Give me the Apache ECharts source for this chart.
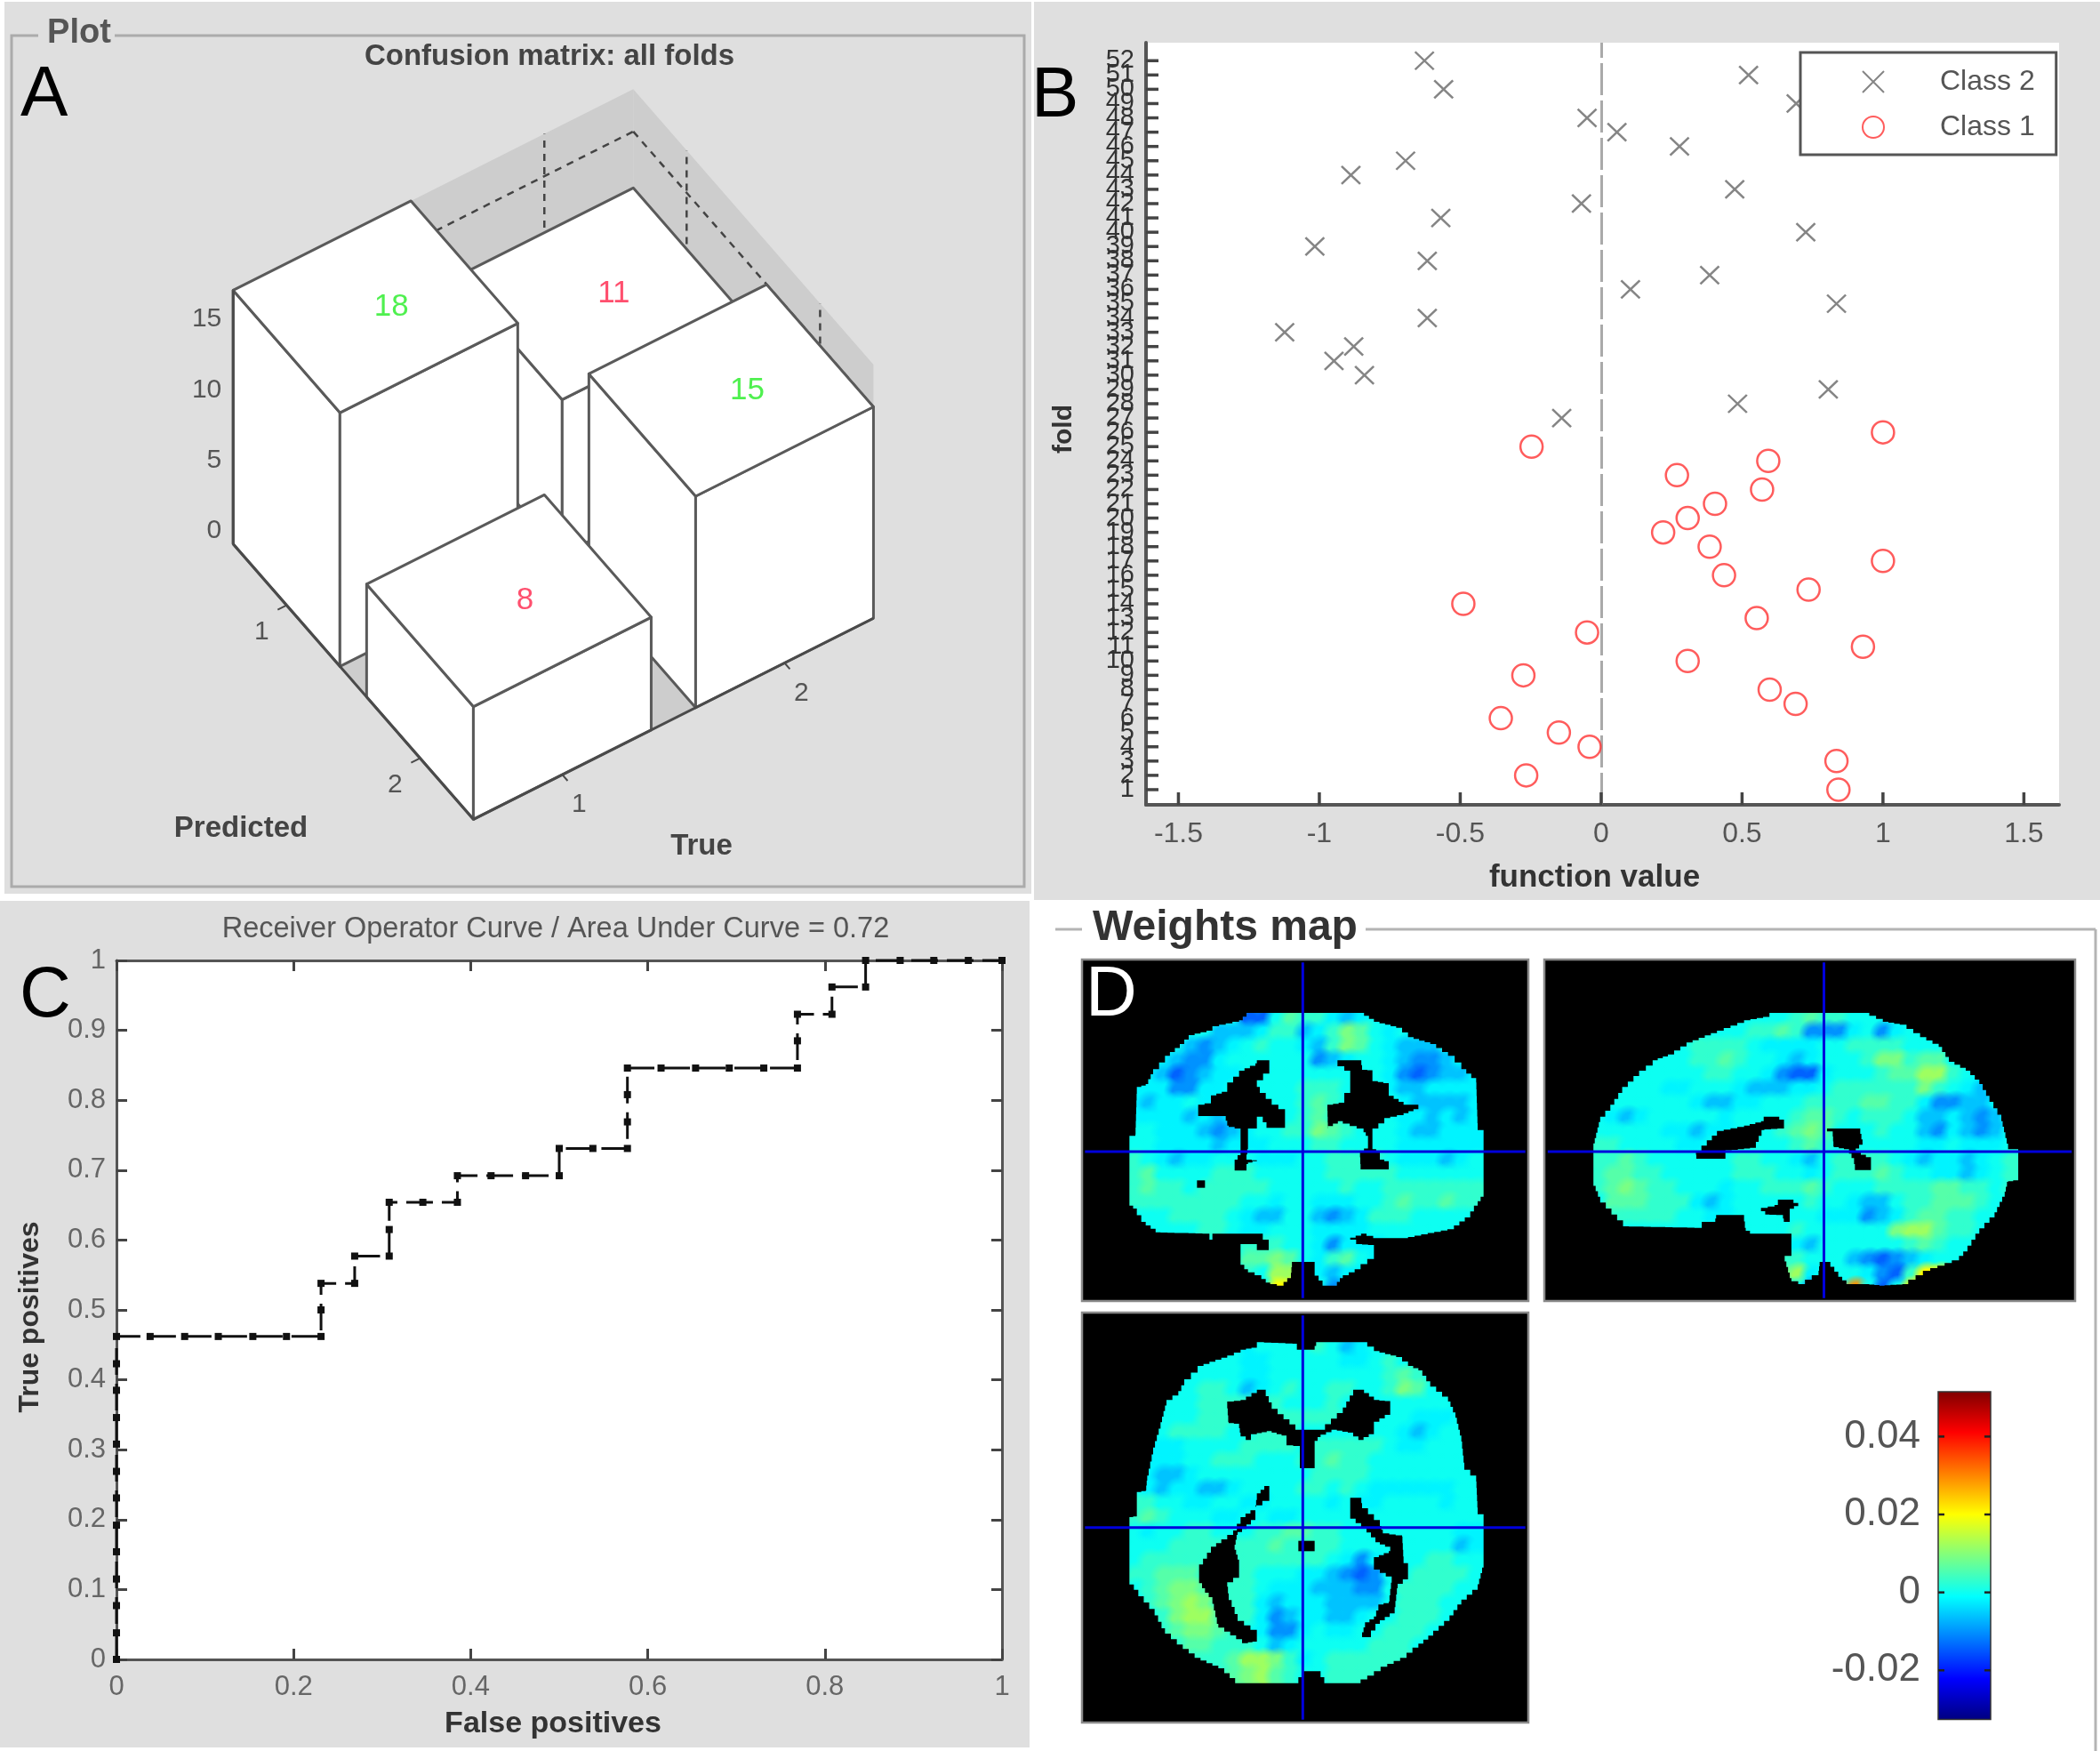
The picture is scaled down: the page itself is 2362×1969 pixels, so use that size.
<!DOCTYPE html>
<html>
<head>
<meta charset="utf-8">
<title>Classifier results</title>
<script src="https://cdn.jsdelivr.net/npm/echarts@6/dist/echarts.min.js"></script>
<style>
html, body { margin: 0; padding: 0; background: #fff; }
#main { width: 2362px; height: 1969px; }
</style>
</head>
<body>
<div id="main"></div>
<script>
var FONT = '"Liberation Sans", Arial, sans-serif';

// A: confusion matrix
var confTrue = [2, 1, 2, 1];
var confPred = [1, 1, 2, 2];
var confCount = [11, 18, 15, 8];
var confZTicks = [0, 5, 10, 15];

// B: function value per fold
var class2Fold = [52,51,50,49,48,47,46,45,44,43,42,41,40,39,38,37,36,35,34,33,32,31,30,29,28,27];
var class2Score = [-0.627,0.523,-0.559,0.692,-0.05,0.056,0.278,-0.694,-0.888,0.474,-0.07,-0.569,0.726,-1.016,-0.617,0.385,0.104,0.835,-0.617,-1.123,-0.878,-0.948,-0.84,0.806,0.484,-0.14];
var class1Fold = [26,25,24,23,22,21,20,19,18,17,16,15,14,13,12,11,10,9,8,7,6,5,4,3,2,1];
var class1Score = [1.0,-0.247,0.593,0.269,0.571,0.404,0.307,0.22,0.385,1.0,0.436,0.736,-0.489,0.552,-0.05,0.929,0.307,-0.276,0.598,0.69,-0.356,-0.15,-0.041,0.835,-0.266,0.842];
var foldTicks = [1,2,3,4,5,6,7,8,9,10,11,12,13,14,15,16,17,18,19,20,21,22,23,24,25,26,27,28,29,30,31,32,33,34,35,36,37,38,39,40,41,42,43,44,45,46,47,48,49,50,51,52];
var foldMin = -0.06, foldMax = 53.26;
var scoreMin = -1.615, scoreMax = 1.625;
var scoreTicks = [-1.5, -1, -0.5, 0, 0.5, 1, 1.5];

// C: ROC curve
var rocFp = [0,0,0,0,0,0,0,0,0,0,0,0,0,0.038,0.077,0.115,0.154,0.192,0.231,0.231,0.231,0.269,0.269,0.308,0.308,0.308,0.346,0.385,0.385,0.423,0.462,0.5,0.5,0.538,0.577,0.577,0.577,0.577,0.615,0.654,0.692,0.731,0.769,0.769,0.769,0.808,0.808,0.846,0.846,0.885,0.923,0.962,1];
var rocTp = [0,0.038,0.077,0.115,0.154,0.192,0.231,0.269,0.308,0.346,0.385,0.423,0.462,0.462,0.462,0.462,0.462,0.462,0.462,0.5,0.538,0.538,0.577,0.577,0.615,0.654,0.654,0.654,0.692,0.692,0.692,0.692,0.731,0.731,0.731,0.769,0.808,0.846,0.846,0.846,0.846,0.846,0.846,0.885,0.923,0.923,0.962,0.962,1,1,1,1,1];

// D: weights, one digit per coarse block, looked up in weightLevels
var weightLevels = [-0.014, -0.010, -0.006, -0.002, 0, 0.003, 0.006, 0.009, 0.012, 0.020, 0.029];
var coronalWeights = [
'4444444400465532344444444','4444442223552357643444444','4444212345443257643222444','3332113444444123443211233',
'3320123344444444443101223','3331133444445554443223333','3233433444445654444322223','3333232344445654444332323',
'4433321234455765444322333','4433332333444554444333333','5432334443334455554333234','5644445554444455555444444',
'5655455555444445445555555','5555555544344333445655655','4445555432244212355544444','4444455433444333344444444',
'4444444455544313334444444','4444444466764356434444444','4444444454884323334444444','4444444444994413444444444'];
var sagittalWeights = [
'444444444444445655444444444444','444444444445565111341344444444','444444455554333344555544444444','444444455654432344457756644444',
'444444445544310034445668854344','444443344432223345555557543244','444444432233444555566553112234','432344444344445665455542232124',
'444443323344456764445442132124','554444334444445654444443343334','556544444455443245555432332345','566554444455544345556544332345',
'567655444344555654445555665545','466655532344444544322455666544','455555443344444433312356655444','444444444444445444444788655444',
'444444444444443244444456544444','444444444444455444210123444444','444444444444468344431059944444','444444444444444144a40495444444'];
var axialWeights = [
'4444444434444542344444444','4444444433444443345444444','4444444433444444445654444','4444455423454455445764444',
'4444455555544454444444444','4444455555555554444433344','4445555445554444444323444','3333444455554555554334444',
'3333445554445565544444444','3322344444444555544444444','4323322344445545433333344','5544334433444434334444344',
'5654443344334444444444444','4344554445566554444444433','4445555555655554444444423','4555555555555543134445544',
'5566655554443321014455554','4567765554333222114555544','4567875553233322224555444','4457886553123322344555444',
'4456776543113433445554444','4445665554234444455544444','4444555688753455555544444','4444445678654455555444444'];
var jetColors = ['#00007f','#0000ff','#007fff','#00ffff','#7fff7f','#ffff00','#ff7f00','#ff0000','#7f0000'];
var weightMin = -0.0326, weightMax = 0.0515;
var weightTicks = [-0.02, 0, 0.02, 0.04];

// slice shapes, in the units of each slice's hidden axes
var coronalOutline = [[555,180],[935,180],[985,210],[1060,230],[1100,262],[1175,285],[1235,325],[1280,370],[1330,415],[1335,575],[1355,590],[1355,800],[1335,830],[1310,870],[1255,910],[1100,940],[1005,940],[960,925],[905,945],[925,960],[985,965],[985,1010],[940,1045],[880,1075],[860,1100],[825,1100],[785,1050],[785,1020],[710,1020],[705,1075],[680,1100],[635,1090],[605,1065],[560,1045],[535,1015],[535,960],[590,960],[590,980],[630,980],[630,945],[610,925],[460,925],[440,945],[430,925],[265,920],[215,885],[185,840],[160,820],[160,595],[180,590],[185,430],[215,420],[240,370],[280,325],[330,285],[360,255],[420,240],[440,225],[530,205]];
var coronalHoles = [
[[590,340],[632,340],[632,385],[590,430],[600,450],[640,490],[685,520],[685,568],[635,568],[610,530],[590,530],[590,570],[560,570],[560,640],[555,675],[590,680],[560,690],[555,712],[515,712],[515,675],[535,645],[535,570],[495,560],[485,528],[392,528],[392,490],[435,480],[435,458],[490,440],[490,415],[530,375],[585,350]],
[[862,340],[940,340],[945,372],[980,375],[980,410],[1035,420],[1035,460],[1085,490],[1135,490],[1135,505],[1085,525],[1040,535],[1000,570],[980,575],[980,640],[1005,655],[1005,675],[1035,685],[1035,708],[960,708],[940,690],[938,645],[965,630],[965,595],[950,570],[880,545],[830,570],[828,490],[885,480],[885,450],[905,440],[905,375],[885,360],[862,352]],
[[388,745],[415,745],[415,770],[388,770]]];
var sagittalOutline = [[665,180],[940,180],[1000,210],[1050,220],[1110,262],[1165,295],[1195,345],[1245,375],[1285,420],[1315,480],[1350,545],[1370,640],[1400,640],[1400,745],[1370,750],[1360,800],[1330,870],[1285,925],[1250,985],[1225,1015],[1140,1050],[1075,1095],[1005,1100],[960,1095],[905,1095],[880,1070],[845,1020],[815,1020],[810,1065],[770,1095],[730,1075],[710,1000],[730,995],[730,925],[620,925],[595,905],[590,862],[510,862],[505,885],[470,885],[465,905],[250,900],[215,860],[165,800],[145,745],[145,620],[165,530],[195,490],[230,430],[280,375],[320,340],[365,320],[420,280],[510,240],[590,205],[665,190]];
var sagittalHoles = [
[[648,530],[680,530],[708,550],[708,570],[650,575],[625,635],[590,640],[535,645],[535,672],[450,672],[448,645],[480,610],[510,578],[590,560],[640,545]],
[[835,570],[930,570],[940,625],[920,650],[965,675],[965,710],[920,710],[915,670],[900,640],[855,630],[852,580],[835,580]],
[[690,810],[722,810],[750,832],[725,850],[725,885],[710,885],[705,862],[665,860],[640,838],[680,828]]];
var axialOutline = [[590,100],[710,105],[725,125],[780,125],[790,100],[940,100],[985,130],[1060,150],[1100,180],[1135,195],[1175,250],[1235,300],[1260,355],[1280,435],[1290,530],[1330,570],[1335,680],[1355,685],[1355,860],[1335,935],[1280,985],[1240,1040],[1185,1090],[1135,1130],[1095,1165],[1030,1195],[985,1225],[940,1250],[830,1250],[805,1210],[760,1210],[730,1250],[535,1250],[480,1200],[400,1165],[340,1120],[280,1065],[245,1000],[190,935],[160,900],[160,690],[185,685],[185,605],[215,600],[220,550],[240,455],[265,370],[285,295],[325,265],[345,225],[390,180],[490,145],[535,125],[590,115]];
var axialHoles = [
[[590,260],[610,260],[640,325],[720,395],[800,395],[880,320],[915,260],[935,260],[985,295],[1040,300],[1040,345],[985,380],[985,410],[950,430],[915,405],[860,395],[805,420],[785,445],[785,525],[735,525],[735,450],[690,445],[690,415],[640,400],[590,410],[570,430],[535,405],[530,375],[495,370],[490,300],[535,295]],
[[615,585],[632,590],[632,635],[585,665],[585,700],[555,730],[525,750],[515,800],[530,850],[530,895],[490,925],[495,970],[525,1040],[590,1085],[590,1110],[560,1115],[460,1050],[440,960],[415,930],[395,895],[395,850],[435,790],[470,765],[510,735],[535,690],[585,655],[590,610]],
[[905,625],[940,625],[945,660],[1005,720],[1015,745],[1080,755],[1085,845],[1100,855],[1100,900],[1065,930],[1055,1015],[1005,1050],[975,1095],[940,1095],[955,1045],[985,1025],[1000,985],[1035,975],[1045,890],[985,855],[985,825],[1035,805],[1040,790],[1005,775],[960,725],[905,680]],
[[730,770],[785,770],[785,805],[730,805]]];

// oblique view used by panel A, drawn on a hidden pixel-sized grid
function project(t, p, z) {
    return [22.2 + t * 250 + p * 150.1, 583.9 - t * 125.6 + p * 172 - z * 15.85];
}
var halfBar = 0.4;
var wallLow = 0.6, wallHigh = 2.4, wallTop = 18;

function polygon(api, pts, style) {
    return {
        type: 'polygon',
        shape: { points: pts.map(function (q) { return api.coord(project(q[0], q[1], q[2])); }) },
        style: style
    };
}
function segment(api, a, b, style) {
    var s = api.coord(project(a[0], a[1], a[2]));
    var e = api.coord(project(b[0], b[1], b[2]));
    return { type: 'line', shape: { x1: s[0], y1: s[1], x2: e[0], y2: e[1] }, style: style };
}
function label3d(api, q, dx, dy, text, align) {
    var c = api.coord(project(q[0], q[1], q[2]));
    return {
        type: 'text', x: c[0] + dx, y: c[1] + dy,
        style: { text: text, fill: '#555', font: '30px ' + FONT, textAlign: align, textVerticalAlign: 'middle' }
    };
}

function renderBox(params, api) {
    var kids = [];
    var grey = { fill: '#cdcdcd' };
    kids.push(polygon(api, [[wallLow,wallLow,0],[wallHigh,wallLow,0],[wallHigh,wallHigh,0],[wallLow,wallHigh,0]], grey));
    kids.push(polygon(api, [[wallLow,wallLow,0],[wallHigh,wallLow,0],[wallHigh,wallLow,wallTop],[wallLow,wallLow,wallTop]], grey));
    kids.push(polygon(api, [[wallHigh,wallLow,0],[wallHigh,wallHigh,0],[wallHigh,wallHigh,wallTop],[wallHigh,wallLow,wallTop]], grey));
    var dash = { stroke: '#444', lineWidth: 2.5, lineDash: [8, 7] };
    kids.push(segment(api, [wallLow,wallLow,15], [wallHigh,wallLow,15], dash));
    kids.push(segment(api, [wallHigh,wallLow,15], [wallHigh,wallHigh,15], dash));
    kids.push(segment(api, [2,wallLow,0], [2,wallLow,wallTop], dash));
    kids.push(segment(api, [wallHigh,1,0], [wallHigh,1,wallTop], dash));
    kids.push(segment(api, [wallHigh,2,0], [wallHigh,2,wallTop], dash));
    return { type: 'group', children: kids };
}

function renderBar(params, api) {
    var t = api.value(0), p = api.value(1), z = api.value(2);
    var t0 = t - halfBar, t1 = t + halfBar, p0 = p - halfBar, p1 = p + halfBar;
    var face = { fill: '#fff', stroke: '#5a5a5a', lineWidth: 3, lineJoin: 'round' };
    var kids = [
        polygon(api, [[t0,p0,0],[t0,p1,0],[t0,p1,z],[t0,p0,z]], face),
        polygon(api, [[t0,p1,0],[t1,p1,0],[t1,p1,z],[t0,p1,z]], face),
        polygon(api, [[t0,p0,z],[t1,p0,z],[t1,p1,z],[t0,p1,z]], face)
    ];
    var c = api.coord(project(t, p, z));
    kids.push({
        type: 'text', x: c[0] + 18, y: c[1],
        style: { text: String(z), fill: t === p ? '#4ff04f' : '#ff4f6e', font: '35px ' + FONT, textAlign: 'center', textVerticalAlign: 'middle' }
    });
    return { type: 'group', children: kids };
}

function renderAxes3d(params, api) {
    var line = { stroke: '#4a4a4a', lineWidth: 3 };
    var thin = { stroke: '#4a4a4a', lineWidth: 2 };
    var kids = [
        segment(api, [wallLow,wallLow,0], [wallLow,wallLow,wallTop], line),
        segment(api, [wallLow,wallLow,0], [wallLow,wallHigh,0], line),
        segment(api, [wallLow,wallHigh,0], [wallHigh,wallHigh,0], line)
    ];
    confZTicks.forEach(function (z) {
        kids.push(label3d(api, [wallLow,wallLow,z], -13, -15, String(z), 'right'));
    });
    [1, 2].forEach(function (v) {
        kids.push(segment(api, [wallLow,v,0], [wallLow - 0.04,v,0], thin));
        kids.push(segment(api, [v,wallHigh,0], [v,wallHigh + 0.04,0], thin));
    });
    kids.push(label3d(api, [wallLow,1,0], -28, 30, '1', 'center'));
    kids.push(label3d(api, [wallLow,2,0], -28, 30, '2', 'center'));
    kids.push(label3d(api, [1,wallHigh,0], 19, 34, '1', 'center'));
    kids.push(label3d(api, [2,wallHigh,0], 19, 34, '2', 'center'));
    return { type: 'group', children: kids };
}

// D helpers
var sliceViews = {
    coronal: { xMax: 1506, yMax: 1152, x0: 160, y0: 180, w: 48, h: 48, step: 24, cross: [745, 648], outline: coronalOutline, holes: coronalHoles, rows: coronalWeights },
    sagittal: { xMax: 1568, yMax: 1152, x0: 145, y0: 180, w: 42, h: 48, step: 22, cross: [826, 648], outline: sagittalOutline, holes: sagittalHoles, rows: sagittalWeights },
    axial: { xMax: 1506, yMax: 1383, x0: 160, y0: 100, w: 48, h: 48, step: 24, cross: [745, 725], outline: axialOutline, holes: axialHoles, rows: axialWeights }
};

function sliceCells(view) {
    var out = [];
    view.rows.forEach(function (row, r) {
        for (var c = 0; c < row.length; c++) {
            var ch = row.charAt(c);
            var level = ch === 'a' ? 10 : Number(ch);
            out.push([view.x0 + c * view.w, view.y0 + r * view.h, weightLevels[level]]);
        }
    });
    return out;
}

// each block is a soft splat so that the map keeps the blurred look of the scan
function cellSeries(view, axisIndex) {
    return {
        type: 'custom', xAxisIndex: axisIndex, yAxisIndex: axisIndex, z: 3, silent: true, clip: true,
        data: sliceCells(view),
        encode: { x: 0, y: 1 },
        renderItem: function (params, api) {
            var cx = api.value(0) + view.w / 2, cy = api.value(1) + view.h / 2;
            var a = api.coord([cx - view.w * 1.1, cy - view.h * 1.1]);
            var b = api.coord([cx + view.w * 1.1, cy + view.h * 1.1]);
            var col = api.visual('color');
            var clear = echarts.color.modifyAlpha(col, 0);
            return {
                type: 'rect',
                shape: { x: a[0], y: a[1], width: b[0] - a[0], height: b[1] - a[1] },
                style: { fill: { type: 'radial', x: 0.5, y: 0.5, r: 0.5, colorStops: [
                    { offset: 0, color: col }, { offset: 0.42, color: col }, { offset: 1, color: clear }
                ] } }
            };
        }
    };
}

function stepped(pts, step) {
    var out = [pts[0]];
    for (var i = 0; i < pts.length; i++) {
        var a = pts[i], b = pts[(i + 1) % pts.length];
        var dx = b[0] - a[0], dy = b[1] - a[1];
        var n = Math.max(1, Math.ceil(Math.max(Math.abs(dx), Math.abs(dy)) / step));
        var py = a[1];
        for (var k = 1; k <= n; k++) {
            var qx = a[0] + dx * k / n, qy = a[1] + dy * k / n;
            out.push([qx, py], [qx, qy]);
            py = qy;
        }
    }
    return out;
}

function pathOf(api, pts) {
    return pts.map(function (q, i) {
        var c = api.coord(q);
        return (i ? 'L' : 'M') + c[0] + ' ' + c[1];
    }).join('') + 'Z';
}

function maskSeries(view, axisIndex) {
    return {
        type: 'custom', xAxisIndex: axisIndex, yAxisIndex: axisIndex, z: 4, silent: true,
        data: [[view.cross[0], view.cross[1]]],
        renderItem: function (params, api) {
            var corners = [[0,0],[view.xMax,0],[view.xMax,view.yMax],[0,view.yMax]];
            var d = pathOf(api, corners) + pathOf(api, stepped(view.outline, view.step).reverse());
            var kids = [{ type: 'path', shape: { pathData: d }, style: { fill: '#000' } }];
            view.holes.forEach(function (h) {
                kids.push({ type: 'path', shape: { pathData: pathOf(api, stepped(h, view.step)) }, style: { fill: '#000' } });
            });
            var blue = { stroke: '#0000dc', lineWidth: 3 };
            var tl = api.coord([10, 10]);
            var br = api.coord([view.xMax - 10, view.yMax - 10]);
            var mid = api.coord([api.value(0), api.value(1)]);
            kids.push({ type: 'line', shape: { x1: mid[0], y1: tl[1], x2: mid[0], y2: br[1] }, style: blue });
            kids.push({ type: 'line', shape: { x1: tl[0], y1: mid[1], x2: br[0], y2: mid[1] }, style: blue });
            var o = api.coord([0, 0]);
            var e = api.coord([view.xMax, view.yMax]);
            kids.push({ type: 'rect', shape: { x: o[0], y: o[1], width: e[0] - o[0], height: e[1] - o[1] }, style: { fill: 'none', stroke: '#8a8a8a', lineWidth: 2.5 } });
            return { type: 'group', children: kids };
        }
    };
}

// tick marks at chosen values, running inwards from the value `at` on the other axis
function tickSeries(axisIndex, values, vertical, at, len, color, width) {
    return {
        type: 'custom', xAxisIndex: axisIndex, yAxisIndex: axisIndex, z: 6, silent: true,
        data: values.map(function (v) { return [v]; }),
        renderItem: function (params, api) {
            var v = api.value(0);
            var c = vertical ? api.coord([at, v]) : api.coord([v, at]);
            var shape = vertical
                ? { x1: c[0], y1: c[1], x2: c[0] + len, y2: c[1] }
                : { x1: c[0], y1: c[1], x2: c[0], y2: c[1] - len };
            return { type: 'line', shape: shape, style: { stroke: color, lineWidth: width } };
        }
    };
}

function hiddenAxis(idx, max, inverse) {
    return { type: 'value', show: false, gridIndex: idx, min: 0, max: max, inverse: !!inverse };
}

var txt = function (text, x, y, size, color, extra) {
    var style = { text: text, fill: color, font: (extra && extra.weight ? extra.weight + ' ' : '') + size + 'px ' + FONT, textAlign: (extra && extra.align) || 'center', textVerticalAlign: 'middle' };
    return { type: 'text', x: x, y: y, z: 50, silent: true, style: style };
};
var box = function (x, y, w, h, fill, stroke) {
    return { type: 'rect', z: -5, silent: true, shape: { x: x, y: y, width: w, height: h }, style: { fill: fill, stroke: stroke || null, lineWidth: 3 } };
};
var hline = function (x1, x2, y) {
    return { type: 'line', z: -4, silent: true, shape: { x1: x1, y1: y, x2: x2, y2: y }, style: { stroke: '#b4b4b4', lineWidth: 3 } };
};

var scatterLegend = ['Class 2', 'Class 1'];
var sliceBase = '#00ffe6';

var option = {
    backgroundColor: '#fff',
    animation: false,
    textStyle: { fontFamily: FONT },
    graphic: { elements: [
        box(5, 2, 1155, 1003, '#dfdfdf'),
        box(1163, 2, 1199, 1010, '#dfdfdf'),
        box(0, 1013, 1158, 952, '#dfdfdf'),
        box(13, 40, 1139, 957, 'none', '#ababab'),
        box(43, 25, 86, 30, '#dfdfdf'),
        hline(1187, 1217, 1045),
        hline(1536, 2357, 1045),
        { type: 'line', z: -4, silent: true, shape: { x1: 2357, y1: 1045, x2: 2357, y2: 1969 }, style: { stroke: '#b4b4b4', lineWidth: 3 } },
        txt('Plot', 89, 38, 38, '#555', { weight: 'bold' }),
        txt('Confusion matrix: all folds', 618, 64, 33, '#444', { weight: 'bold' }),
        txt('Predicted', 271, 932, 33, '#444', { weight: 'bold' }),
        txt('True', 789, 952, 33, '#444', { weight: 'bold' }),
        txt('Receiver Operator Curve / Area Under Curve = 0.72', 625, 1045, 32.5, '#555'),
        txt('Weights map', 1378, 1044, 48, '#333', { weight: 'bold' }),
        txt('A', 23, 108, 80, '#000', { align: 'left' }),
        txt('B', 1160, 109, 80, '#000', { align: 'left' }),
        txt('C', 22, 1121, 80, '#000', { align: 'left' }),
        txt('D', 1221, 1120, 80, '#fff', { align: 'left' })
    ] },
    legend: {
        data: scatterLegend, orient: 'vertical', left: 2025, top: 59,
        padding: [17, 24, 15, 69], itemWidth: 100, itemHeight: 24, itemGap: 19,
        backgroundColor: '#fff', borderColor: '#555', borderWidth: 3, borderRadius: 0,
        textStyle: { fontSize: 32, color: '#555', fontFamily: FONT, padding: [0, 0, 0, 20] }
    },
    visualMap: {
        show: false, min: weightMin, max: weightMax, dimension: 2,
        seriesIndex: [6, 8, 10],
        inRange: { color: jetColors }
    },
    grid: [
        { left: 0, top: 0, width: 1163, height: 1003 },
        { left: 1289, top: 48, width: 1027, height: 857, show: true, backgroundColor: '#fff', borderWidth: 0 },
        { left: 131, top: 1080, width: 996, height: 786, show: true, backgroundColor: '#fff', borderWidth: 0 },
        { left: 1217, top: 1079, width: 502, height: 384, show: true, backgroundColor: sliceBase, borderWidth: 0 },
        { left: 1737, top: 1079, width: 597, height: 384, show: true, backgroundColor: sliceBase, borderWidth: 0 },
        { left: 1217, top: 1476, width: 502, height: 461, show: true, backgroundColor: sliceBase, borderWidth: 0 },
        { left: 2180, top: 1565, width: 59, height: 368.5 }
    ],
    xAxis: [
        hiddenAxis(0, 1163),
        {
            type: 'value', gridIndex: 1, min: scoreMin, max: scoreMax,
            name: 'function value', nameLocation: 'middle', nameGap: 65,
            nameTextStyle: { fontSize: 35, fontWeight: 'bold', color: '#333', fontFamily: FONT, padding: [0, 18, 0, 0] },
            axisLine: { onZero: false, lineStyle: { color: '#555', width: 4 } },
            axisTick: { show: false },
            axisLabel: { fontSize: 32, color: '#555', margin: 17, customValues: scoreTicks },
            splitLine: { show: false }
        },
        {
            type: 'value', gridIndex: 2, min: 0, max: 1, interval: 0.2,
            name: 'False positives', nameLocation: 'middle', nameGap: 56,
            nameTextStyle: { fontSize: 34, fontWeight: 'bold', color: '#333', fontFamily: FONT, padding: [0, 14, 0, 0] },
            axisLine: { onZero: false, lineStyle: { color: '#555', width: 3 } },
            axisTick: { inside: true, length: 12, lineStyle: { color: '#444', width: 3 } },
            axisLabel: { fontSize: 31, color: '#666', margin: 16 },
            splitLine: { show: false }
        },
        {
            type: 'value', gridIndex: 2, position: 'top', min: 0, max: 1, interval: 0.2,
            axisLine: { onZero: false, lineStyle: { color: '#555', width: 3 } },
            axisTick: { inside: true, length: 12, lineStyle: { color: '#444', width: 3 } },
            axisLabel: { show: false }, splitLine: { show: false }
        },
        hiddenAxis(3, sliceViews.coronal.xMax),
        hiddenAxis(4, sliceViews.sagittal.xMax),
        hiddenAxis(5, sliceViews.axial.xMax),
        hiddenAxis(6, 1)
    ],
    yAxis: [
        hiddenAxis(0, 1003, true),
        {
            type: 'value', gridIndex: 1, min: foldMin, max: foldMax,
            name: 'fold', nameLocation: 'middle', nameGap: 77,
            nameTextStyle: { fontSize: 30, fontWeight: 'bold', color: '#333', fontFamily: FONT, padding: [0, 12, 0, 0] },
            axisLine: { onZero: false, lineStyle: { color: '#555', width: 4 } },
            axisTick: { show: false },
            // the two axis ends carry empty labels so that folds 1 and 52 are not dropped as overlapping
            axisLabel: {
                fontSize: 29, color: '#333', margin: 13, hideOverlap: false,
                customValues: [foldMin].concat(foldTicks, [foldMax]),
                formatter: function (v) { return Number.isInteger(v) ? String(v) : ''; }
            },
            splitLine: { show: false }
        },
        {
            type: 'value', gridIndex: 2, min: 0, max: 1, interval: 0.1,
            name: 'True positives', nameLocation: 'middle', nameGap: 81,
            nameTextStyle: { fontSize: 32, fontWeight: 'bold', color: '#333', fontFamily: FONT, padding: [0, 16, 0, 0] },
            axisLine: { onZero: false, lineStyle: { color: '#555', width: 3 } },
            axisTick: { inside: true, length: 12, lineStyle: { color: '#444', width: 3 } },
            axisLabel: { fontSize: 31, color: '#666', margin: 12 },
            splitLine: { show: false }
        },
        {
            type: 'value', gridIndex: 2, position: 'right', min: 0, max: 1, interval: 0.1,
            axisLine: { onZero: false, lineStyle: { color: '#555', width: 3 } },
            axisTick: { inside: true, length: 12, lineStyle: { color: '#444', width: 3 } },
            axisLabel: { show: false }, splitLine: { show: false }
        },
        hiddenAxis(3, sliceViews.coronal.yMax, true),
        hiddenAxis(4, sliceViews.sagittal.yMax, true),
        hiddenAxis(5, sliceViews.axial.yMax, true),
        {
            type: 'value', gridIndex: 6, min: weightMin, max: weightMax,
            axisLine: { show: false },
            axisTick: { show: false },
            axisLabel: { fontSize: 44, color: '#555', margin: 20, customValues: weightTicks, formatter: function (v) { return String(v); } },
            splitLine: { show: false }
        }
    ],
    series: [
        { type: 'custom', xAxisIndex: 0, yAxisIndex: 0, z: 2, silent: true, data: [[0, 0]], renderItem: renderBox },
        {
            type: 'custom', xAxisIndex: 0, yAxisIndex: 0, z: 3, silent: true,
            data: confCount.map(function (n, i) { return [confTrue[i], confPred[i], n]; }),
            encode: { x: 0, y: 1 }, renderItem: renderBar
        },
        { type: 'custom', xAxisIndex: 0, yAxisIndex: 0, z: 4, silent: true, data: [[0, 0]], renderItem: renderAxes3d },
        {
            name: 'Class 2', type: 'scatter', xAxisIndex: 1, yAxisIndex: 1, z: 3,
            symbol: 'path://M0,0L20,20M20,0L0,20', symbolSize: [21, 20],
            itemStyle: { color: 'transparent', borderColor: '#666', borderWidth: 2.5 },
            data: class2Score.map(function (v, i) { return [v, class2Fold[i]]; }),
            markLine: {
                silent: true, symbol: 'none', animation: false, z: 2,
                label: { show: false },
                lineStyle: { color: '#aaa', width: 3, type: [36, 6] },
                data: [{ xAxis: 0 }]
            }
        },
        {
            name: 'Class 1', type: 'scatter', xAxisIndex: 1, yAxisIndex: 1, z: 3,
            symbol: 'circle', symbolSize: 25,
            itemStyle: { color: 'transparent', borderColor: '#f33', borderWidth: 2.5 },
            data: class1Score.map(function (v, i) { return [v, class1Fold[i]]; })
        },
        {
            name: 'ROC', type: 'line', xAxisIndex: 2, yAxisIndex: 2, z: 5, clip: false,
            symbol: 'rect', symbolSize: 8, showAllSymbol: true,
            itemStyle: { color: '#111' },
            lineStyle: { color: '#111', width: 3, type: [30, 10] },
            data: rocFp.map(function (v, i) { return [v, rocTp[i]]; })
        },
        cellSeries(sliceViews.coronal, 4),
        maskSeries(sliceViews.coronal, 4),
        cellSeries(sliceViews.sagittal, 5),
        maskSeries(sliceViews.sagittal, 5),
        cellSeries(sliceViews.axial, 6),
        maskSeries(sliceViews.axial, 6),
        {
            type: 'custom', xAxisIndex: 7, yAxisIndex: 7, z: 2, silent: true,
            data: [[0, weightMin, weightMax]],
            renderItem: function (params, api) {
                var a = api.coord([0, api.value(2)]);
                var b = api.coord([1, api.value(1)]);
                var stops = jetColors.map(function (c, i) { return { offset: i / (jetColors.length - 1), color: c }; });
                return {
                    type: 'rect',
                    shape: { x: a[0], y: a[1], width: b[0] - a[0], height: b[1] - a[1] },
                    style: { fill: { type: 'linear', x: 0, y: 1, x2: 0, y2: 0, colorStops: stops }, stroke: '#333', lineWidth: 1.5 }
                };
            }
        },
        tickSeries(1, scoreTicks, false, foldMin, 14, '#444', 3.5),
        tickSeries(1, foldTicks, true, scoreMin, 14, '#444', 3.5),
        tickSeries(7, weightTicks, true, 0, 7, '#222', 2.5),
        tickSeries(7, weightTicks, true, 1, -7, '#222', 2.5)
    ]
};
var chart = echarts.init(document.getElementById('main'), null, { renderer: 'canvas' });
chart.setOption(option);
</script>
</body>
</html>
